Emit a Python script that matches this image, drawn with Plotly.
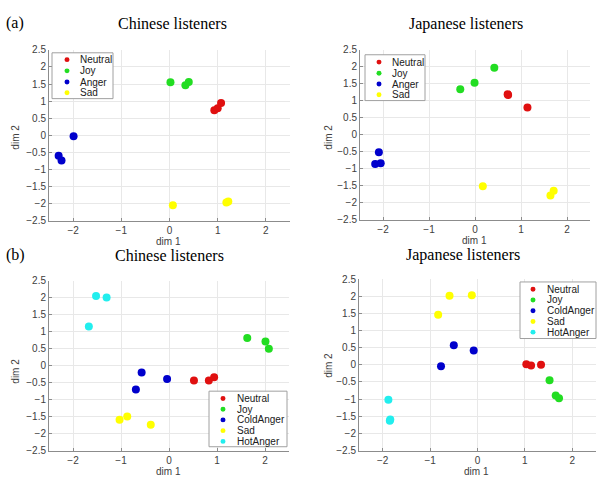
import plotly.graph_objects as go

W, H = 597, 482

# ---------------- data ----------------
cats_a = ["Neutral", "Joy", "Anger", "Sad"]
cats_b = ["Neutral", "Joy", "ColdAnger", "Sad", "HotAnger"]

# (a) Chinese listeners
a_cn_neutral_x = [0.93, 1.00, 1.07]
a_cn_neutral_y = [0.73, 0.79, 0.94]
a_cn_joy_x = [0.02, 0.33, 0.40]
a_cn_joy_y = [1.55, 1.46, 1.56]
a_cn_anger_x = [-1.99, -2.30, -2.24]
a_cn_anger_y = [-0.03, -0.60, -0.74]
a_cn_sad_x = [0.07, 1.18, 1.22]
a_cn_sad_y = [-2.05, -1.97, -1.94]

# (a) Japanese listeners
a_jp_neutral_x = [0.71, 0.72, 1.14]
a_jp_neutral_y = [1.19, 1.17, 0.80]
a_jp_joy_x = [-0.32, -0.01, 0.42]
a_jp_joy_y = [1.34, 1.53, 1.97]
a_jp_anger_x = [-2.09, -2.17, -2.05]
a_jp_anger_y = [-0.52, -0.86, -0.84]
a_jp_sad_x = [0.17, 1.71, 1.64]
a_jp_sad_y = [-1.52, -1.65, -1.79]

# (b) Chinese listeners
b_cn_neutral_x = [0.52, 0.83, 0.94]
b_cn_neutral_y = [-0.43, -0.43, -0.34]
b_cn_joy_x = [1.63, 2.01, 2.08]
b_cn_joy_y = [0.82, 0.72, 0.50]
b_cn_cold_x = [-0.57, -0.04, -0.69]
b_cn_cold_y = [-0.20, -0.39, -0.70]
b_cn_sad_x = [-1.03, -0.87, -0.38]
b_cn_sad_y = [-1.59, -1.49, -1.74]
b_cn_hot_x = [-1.52, -1.30, -1.67]
b_cn_hot_y = [2.06, 2.01, 1.16]

# (b) Japanese listeners
b_jp_neutral_x = [1.03, 1.13, 1.34]
b_jp_neutral_y = [0.02, -0.02, 0.00]
b_jp_joy_x = [1.52, 1.65, 1.72]
b_jp_joy_y = [-0.45, -0.89, -0.97]
b_jp_cold_x = [-0.50, -0.08, -0.77]
b_jp_cold_y = [0.57, 0.42, -0.04]
b_jp_sad_x = [-0.83, -0.59, -0.12]
b_jp_sad_y = [1.46, 2.01, 2.03]
b_jp_hot_x = [-1.88, -1.84, -1.85]
b_jp_hot_y = [-1.02, -1.59, -1.63]

x_ticks = [-2, -1, 0, 1, 2]
y_ticks = [-2.5, -2, -1.5, -1, -0.5, 0, 0.5, 1, 1.5, 2, 2.5]
y_tick_text = ["\u22122.5", "\u22122", "\u22121.5", "\u22121", "\u22120.5", "0", "0.5", "1", "1.5", "2", "2.5"]
x_tick_text = ["\u22122", "\u22121", "0", "1", "2"]

titles = ["Chinese listeners", "Japanese listeners", "Chinese listeners", "Japanese listeners"]

colors = {"Neutral": "#e01010", "Joy": "#22dd22", "Anger": "#0000cc",
          "ColdAnger": "#0000cc", "Sad": "#ffff00", "HotAnger": "#22eeee"}

panels = [
    (cats_a, [(a_cn_neutral_x, a_cn_neutral_y), (a_cn_joy_x, a_cn_joy_y),
              (a_cn_anger_x, a_cn_anger_y), (a_cn_sad_x, a_cn_sad_y)]),
    (cats_a, [(a_jp_neutral_x, a_jp_neutral_y), (a_jp_joy_x, a_jp_joy_y),
              (a_jp_anger_x, a_jp_anger_y), (a_jp_sad_x, a_jp_sad_y)]),
    (cats_b, [(b_cn_neutral_x, b_cn_neutral_y), (b_cn_joy_x, b_cn_joy_y),
              (b_cn_cold_x, b_cn_cold_y), (b_cn_sad_x, b_cn_sad_y), (b_cn_hot_x, b_cn_hot_y)]),
    (cats_b, [(b_jp_neutral_x, b_jp_neutral_y), (b_jp_joy_x, b_jp_joy_y),
              (b_jp_cold_x, b_jp_cold_y), (b_jp_sad_x, b_jp_sad_y), (b_jp_hot_x, b_jp_hot_y)]),
]

# pixel boxes of each axes: (left, right, top, bottom)
boxes = [(49, 290, 45, 220), (360, 590, 45, 219), (49, 289, 282, 456), (359, 596, 280, 456)]

def px(x):
    return x / W

def py(y):
    return 1 - y / H

fig = go.Figure()
layout = {}
for i, ((cats, series), (l, r, t, b)) in enumerate(zip(panels, boxes)):
    n = "" if i == 0 else str(i + 1)
    for cat, (xs, ys) in zip(cats, series):
        fig.add_trace(go.Scatter(
            x=xs, y=ys, mode="markers", name=cat, showlegend=False,
            xaxis="x" + n, yaxis="y" + n,
            marker=dict(size=8, color=colors[cat], line=dict(width=0)),
        ))
    common = dict(showgrid=True, gridcolor="#e8e8e8", gridwidth=1,
                  zeroline=False, showline=True, linecolor="#8c8c8c", linewidth=1,
                  ticks="inside", ticklen=3, tickcolor="#8c8c8c",
                  tickfont=dict(family="Liberation Sans, Arial", size=10, color="#404040"),
                  fixedrange=True)
    layout["xaxis" + n] = dict(common, domain=[px(l), px(r)], range=[-2.5, 2.5],
                               tickvals=x_ticks, ticktext=x_tick_text,
                               anchor="y" + n)
    layout["yaxis" + n] = dict(common, domain=[py(b), py(t)], range=[-2.5, 2.5],
                               tickvals=y_ticks, ticktext=y_tick_text,
                               anchor="x" + n)

annotations = []
shapes = []
serif = dict(family="Liberation Serif, Times New Roman", size=16, color="#000")
for txt, x, y in [("(a)", 15, 17), ("(b)", 15, 255)]:
    annotations.append(dict(text=txt, x=px(x), y=py(y), xref="paper", yref="paper",
                            xanchor="center", yanchor="middle", showarrow=False, font=serif))
for txt, x, y in zip(titles, [172, 466, 169, 463], [18, 18, 256, 255]):
    annotations.append(dict(text=txt, x=px(x), y=py(y), xref="paper", yref="paper",
                            xanchor="center", yanchor="middle", showarrow=False, font=serif))

lab_font = dict(family="Liberation Sans, Arial", size=10, color="#404040")
for (l, r, t, b) in boxes:
    annotations.append(dict(text="dim 1", x=px((l + r) / 2 - 1), y=py(b + 21), xref="paper", yref="paper",
                            xanchor="center", yanchor="middle", showarrow=False, font=lab_font,
                            borderpad=0))
for (x, y) in [(16, 135), (329, 135), (16, 375), (329, 369)]:
    annotations.append(dict(text="dim 2", x=px(x), y=py(y), xref="paper", yref="paper",
                            xanchor="center", yanchor="middle", showarrow=False, font=lab_font,
                            textangle=-90))

# legends: (box l, r, t, b), marker x, text x, item ys
legends = [
    (cats_a, (52, 113, 48, 95), 67, 78, [55, 66.5, 78, 89]),
    (cats_a, (365, 425, 50, 97), 379, 390, [57.5, 69, 80, 91]),
    (cats_b, (209, 287, 395, 452), 223, 235, [402.5, 413.5, 424.5, 435.5, 446.5]),
    (cats_b, (520, 596, 283, 341), 533, 545, [290.5, 301.5, 312.5, 323.5, 334.5]),
]
leg_font = dict(family="Liberation Sans, Arial", size=10, color="#202020")
for cats, (l, r, t, b), mx, tx, ys in legends:
    shapes.append(dict(type="rect", xref="paper", yref="paper",
                       x0=px(l), x1=px(r), y0=py(b), y1=py(t),
                       line=dict(color="#a0a0a0", width=1), fillcolor="white", layer="above"))
    for cat, y in zip(cats, ys):
        shapes.append(dict(type="circle", xref="paper", yref="paper",
                           x0=px(mx - 2.5), x1=px(mx + 2.5), y0=py(y + 2.5), y1=py(y - 2.5),
                           line=dict(width=0), fillcolor=colors[cat], layer="above"))
        annotations.append(dict(text=cat, x=px(tx), y=py(y), xref="paper", yref="paper",
                                xanchor="left", yanchor="middle", showarrow=False, font=leg_font))

fig.update_layout(
    width=W, height=H, margin=dict(l=0, r=0, t=0, b=0),
    paper_bgcolor="white", plot_bgcolor="white",
    showlegend=False, annotations=annotations, shapes=shapes,
    **layout,
)

fig.write_html("out.html", config={"displayModeBar": False},
               post_script="document.body.style.margin='0';document.body.style.overflow='hidden';")
